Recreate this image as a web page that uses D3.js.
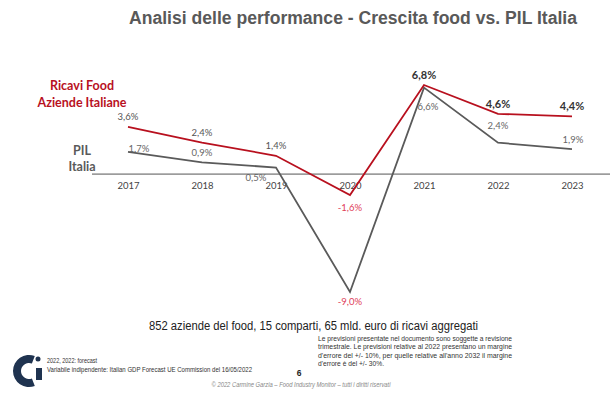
<!DOCTYPE html>
<html><head><meta charset="utf-8">
<script src="https://cdn.jsdelivr.net/npm/d3@7"></script>
<style>
html,body{margin:0;padding:0;background:#fff;}
svg{display:block;}
</style></head>
<body>
<svg id="chart" width="614" height="409"></svg>
<script>
const years = ["2017","2018","2019","2020","2021","2022","2023"];
const foodValues = [3.6, 2.4, 1.4, -1.6, 6.8, 4.6, 4.4];
const pilValues = [1.7, 0.9, 0.5, -9.0, 6.6, 2.4, 1.9];
const boldFoodYears = ["2021","2022","2023"];
const fmt = v => d3.format(".1f")(v).replace(".", ",").replace("−","-") + "%";

const svg = d3.select("#chart");
const calibri = "Lato, 'Noto Sans', sans-serif";
const arial = "'Liberation Sans', Arial, sans-serif";
const red = "#b8101e", gray = "#5a5a5a";

const x = d3.scalePoint().domain(years).range([128, 572]);
const y = d3.scaleLinear().domain([-9, 6.8]).range([292, 85]);

// title
svg.append("text").attr("x", 353).attr("y", 24).attr("text-anchor", "middle")
  .attr("font-family", arial).attr("font-weight", "bold").attr("font-size", 17.5)
  .attr("fill", "#595959").attr("textLength", 448).attr("lengthAdjust", "spacingAndGlyphs")
  .text("Analisi delle performance - Crescita food vs. PIL Italia");

// zero line
svg.append("line").attr("x1", 92).attr("x2", 610).attr("y1", y(0)).attr("y2", y(0))
  .attr("stroke", "#555").attr("stroke-width", 1);

// axis labels
const ax = svg.append("g").attr("transform", `translate(0,${y(0)})`)
  .call(d3.axisBottom(x).tickSize(0).tickPadding(8));
ax.select(".domain").remove();
ax.selectAll("text").attr("font-family", calibri).attr("font-size", 9.5).attr("fill", "#444");

const line = d3.line().x((d, i) => x(years[i])).y(d => y(d));

svg.append("path").datum(pilValues).attr("d", line).attr("fill", "none")
  .attr("stroke", gray).attr("stroke-width", 1.8);
svg.append("path").datum(foodValues).attr("d", line).attr("fill", "none")
  .attr("stroke", red).attr("stroke-width", 1.8);

// food labels
svg.append("g").selectAll("text").data(foodValues).join("text")
  .attr("x", (d, i) => x(years[i]))
  .attr("y", (d) => d < 0 ? y(d) + 13 : y(d) - 10)
  .attr("dy", "0.35em")
  .attr("text-anchor", "middle")
  .attr("font-family", calibri)
  .attr("font-size", (d, i) => boldFoodYears.includes(years[i]) ? 11 : 9.5)
  .attr("font-weight", (d, i) => boldFoodYears.includes(years[i]) ? "bold" : "normal")
  .attr("fill", (d, i) => d < 0 ? "#e0405a" : (boldFoodYears.includes(years[i]) ? "#333" : "#555"))
  .text(d => fmt(d));

// pil labels (placement tweaks per index)
const pilPlace = [[11, -3], [0, -10], [-20, 10], [0, 10], [4, 19], [0, -17], [1, -10]];
svg.append("g").selectAll("text").data(pilValues).join("text")
  .attr("x", (d, i) => x(years[i]) + pilPlace[i][0])
  .attr("y", (d, i) => y(d) + pilPlace[i][1])
  .attr("dy", "0.35em")
  .attr("text-anchor", "middle")
  .attr("font-family", calibri).attr("font-size", 9.5)
  .attr("fill", d => d < 0 ? "#e0405a" : "#666")
  .text(d => fmt(d));

// series names
const nm = svg.append("g").attr("font-family", calibri).attr("font-weight", "bold")
  .attr("font-size", 12.5).attr("text-anchor", "middle");
nm.append("text").attr("x", 82).attr("y", 90).attr("fill", red).text("Ricavi Food");
nm.append("text").attr("x", 82).attr("y", 107).attr("fill", red).text("Aziende Italiane");
nm.append("text").attr("x", 82).attr("y", 155).attr("fill", gray).text("PIL");
nm.append("text").attr("x", 82).attr("y", 171).attr("fill", gray).text("Italia");

// subtitle
svg.append("text").attr("x", 313.5).attr("y", 330).attr("text-anchor", "middle")
  .attr("font-family", arial).attr("font-size", 12.5).attr("fill", "#222")
  .attr("textLength", 329).attr("lengthAdjust", "spacingAndGlyphs")
  .text("852 aziende del food, 15 comparti, 65 mld. euro di ricavi aggregati");

// right note
const noteLines = [
  "Le previsioni presentate nel documento sono soggette a revisione",
  "trimestrale. Le previsioni relative al 2022 presentano un margine",
  "d'errore  del +/- 10%, per quelle relative all'anno 2032 il margine",
  "d'errore è del +/- 30%."
];
const ng = svg.append("g").attr("font-family", arial).attr("font-size", 7).attr("fill", "#333");
noteLines.forEach((t, i) => {
  const tx = ng.append("text").attr("x", 318).attr("y", 341 + i * 8.3).text(t);
  if (i < 3) tx.attr("textLength", 194).attr("lengthAdjust", "spacingAndGlyphs");
  else tx.attr("textLength", 66).attr("lengthAdjust", "spacingAndGlyphs");
});

// left note
const lg = svg.append("g").attr("font-family", arial).attr("font-size", 7.3).attr("fill", "#333");
lg.append("text").attr("x", 47).attr("y", 363).attr("textLength", 50).attr("lengthAdjust", "spacingAndGlyphs")
  .text("2022, 2022: forecast");
lg.append("text").attr("x", 47).attr("y", 372).attr("textLength", 205).attr("lengthAdjust", "spacingAndGlyphs")
  .text("Variabile indipendente: Italian GDP Forecast UE Commission del 16/05/2022");

svg.append("text").attr("x", 299).attr("y", 376).attr("text-anchor", "middle")
  .attr("font-family", arial).attr("font-weight", "bold").attr("font-size", 8.5).attr("fill", "#222").text("6");

svg.append("text").attr("x", 301).attr("y", 387).attr("text-anchor", "middle")
  .attr("font-family", arial).attr("font-style", "italic").attr("font-size", 6.5).attr("fill", "#888")
  .attr("textLength", 179).attr("lengthAdjust", "spacingAndGlyphs")
  .text("© 2022 Carmine Garzia – Food Industry Monitor – tutti i diritti riservati");

// logo
const logo = svg.append("g").attr("fill", "#1f3350");
const arc = d3.arc().innerRadius(8).outerRadius(16)
  .startAngle(Math.PI / 2 + 1.2).endAngle(2 * Math.PI + Math.PI / 2 - 1.2);
logo.append("path").attr("d", arc).attr("transform", "translate(29,371)");
logo.append("rect").attr("x", 36).attr("y", 368).attr("width", 6).attr("height", 12);
logo.append("circle").attr("cx", 38).attr("cy", 359).attr("r", 2.5);
</script>
</body></html>
